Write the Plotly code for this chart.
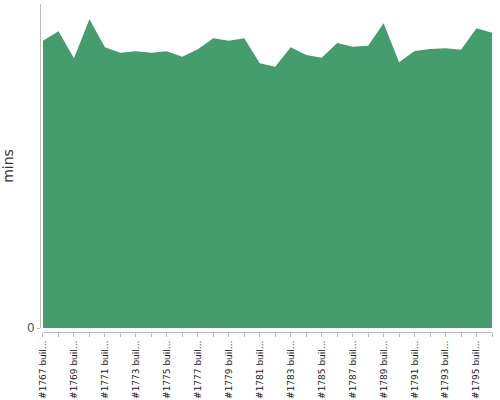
import plotly.graph_objects as go

builds = [f"#{n} build" for n in range(1767, 1797)]
tick_labels = [f"#{n} buil..." if (n - 1767) % 2 == 0 else "" for n in range(1767, 1797)]
mins = [26.60, 27.47, 24.97, 28.58, 25.99, 25.49, 25.62, 25.49, 25.62, 25.12,
        25.81, 26.82, 26.60, 26.82, 24.51, 24.19, 25.99, 25.28, 25.03, 26.39,
        26.05, 26.14, 28.21, 24.60, 25.65, 25.83, 25.90, 25.77, 27.75, 27.34]

fig = go.Figure(go.Scatter(
    x=builds, y=mins, mode="lines", fill="tozeroy",
    line=dict(width=0, color="#459c6c"), fillcolor="#459c6c",
    hoverinfo="x+y",
))

fig.update_layout(
    width=500, height=400,
    margin=dict(l=40, r=8, t=4, b=68),
    plot_bgcolor="white", paper_bgcolor="white",
    showlegend=False,
    font=dict(family="DejaVu Sans", size=10, color="#222"),
    xaxis=dict(
        type="category", range=[0, len(builds) - 1], domain=[0.0066, 1],
        anchor="free", position=0, automargin=False,
        tickvals=builds, ticktext=tick_labels, tickangle=-90,
        ticks="outside", ticklen=4, tickcolor="#bbb",
        showline=True, linecolor="#bbb", linewidth=1,
        showgrid=False, zeroline=False,
        tickfont=dict(family="DejaVu Sans", size=9, color="#222"),
    ),
    yaxis=dict(
        range=[0, 30], domain=[0.0122, 1],
        anchor="free", position=0, automargin=False,
        tickvals=[0], ticktext=["0"],
        ticks="outside", ticklen=3, tickcolor="#bbb",
        showline=True, linecolor="#bbb", linewidth=1,
        showgrid=False, zeroline=False,
        tickfont=dict(family="DejaVu Sans", size=12, color="#555"),
        title=dict(text="mins", font=dict(family="DejaVu Sans", size=14, color="#333"), standoff=9),
    ),
)

fig.write_html("out.html", config={"displayModeBar": False},
               post_script="document.body.style.margin='0';")
